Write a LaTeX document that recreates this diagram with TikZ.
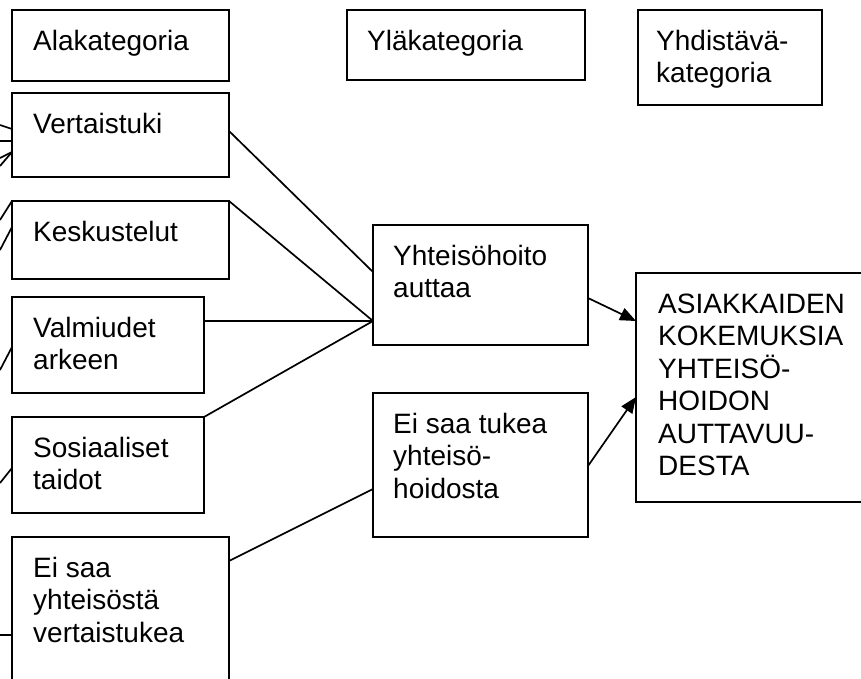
\documentclass[tikz,border=0pt]{standalone}
\usepackage{fontspec}
\setmainfont{Liberation Sans}
\usetikzlibrary{arrows.meta,calc}

% stacked lines whose baseline is that of the first line
\newcommand\mlines[1]{\vtop{\halign{##\hfil\cr#1\crcr}}}

\tikzset{
  box/.style={draw, line width=1.7pt, anchor=north west, inner sep=0pt, outer sep=0pt},
  lbl/.style={anchor=base west, inner sep=0pt, font=\fontsize{28}{32.5}\selectfont},
  link/.style={line width=1.7pt},
  arr/.style={line width=1.7pt, -{Triangle[length=16pt,width=13pt]}},
}

\begin{document}
\begin{tikzpicture}[x=1pt,y=-1pt]
\useasboundingbox (0,0) rectangle (861,678);
\clip (0,0) rectangle (861,678);

% header boxes
\node[box, minimum width=217pt, minimum height=71pt] (ala) at (12,10) {};
\node[box, minimum width=238pt, minimum height=70pt] (yla) at (347,10) {};
\node[box, minimum width=184pt, minimum height=95pt] (yhd) at (638,10) {};

% subcategories
\node[box, minimum width=217pt, minimum height=84pt] (vert) at (12,93) {};
\node[box, minimum width=217pt, minimum height=78pt] (kesk) at (12,201) {};
\node[box, minimum width=192pt, minimum height=96pt] (valm) at (12,297) {};
\node[box, minimum width=192pt, minimum height=96pt] (sos) at (12,417) {};
\node[box, minimum width=217pt, minimum height=160pt] (eisy) at (12,537) {};

% upper categories
\node[box, minimum width=215pt, minimum height=120pt] (yht) at (373,225) {};
\node[box, minimum width=215pt, minimum height=144pt] (eist) at (373,393) {};

% combining category
\node[box, minimum width=250pt, minimum height=229pt] (asia) at (636,273) {};

% texts
\node[lbl] (ala-t) at ($(ala.north west)+(21,40)$) {Alakategoria};
\node[lbl] (yla-t) at ($(yla.north west)+(20,40)$) {Yläkategoria};
\node[lbl] (yhd-t) at ($(yhd.north west)+(18,40)$) {\mlines{Yhdistävä-\cr kategoria}};
\node[lbl] (vert-t) at ($(vert.north west)+(21,40)$) {Vertaistuki};
\node[lbl] (kesk-t) at ($(kesk.north west)+(21,40)$) {Keskustelut};
\node[lbl] (valm-t) at ($(valm.north west)+(21,40)$) {\mlines{Valmiudet\cr arkeen}};
\node[lbl] (sos-t) at ($(sos.north west)+(21,40)$) {\mlines{Sosiaaliset\cr taidot}};
\node[lbl] (eisy-t) at ($(eisy.north west)+(21,40)$) {\mlines{Ei saa\cr yhteisöstä\cr vertaistukea}};
\node[lbl] (yht-t) at ($(yht.north west)+(20,40)$) {\mlines{Yhteisöhoito\cr auttaa}};
\node[lbl] (eist-t) at ($(eist.north west)+(20,40)$) {\mlines{Ei saa tukea\cr yhteisö-\cr hoidosta}};
\node[lbl] (asia-t) at ($(asia.north west)+(22,40)$) {\mlines{ASIAKKAIDEN\cr KOKEMUKSIA\cr YHTEISÖ-\cr HOIDON\cr AUTTAVUU-\cr DESTA}};

% connection points
\coordinate (yhtin) at ($(yht.north west)+(0,96)$);
\coordinate (yhtup) at ($(yht.north west)+(0,47)$);
\coordinate (eistin) at ($(eist.north west)+(0,96)$);

% subcategories to upper categories
\draw[link] ($(vert.north east)+(0,38)$) -- (yhtup);
\draw[link] (kesk.north east) -- (yhtin);
\draw[link] ($(valm.north east)+(0,24)$) -- (yhtin);
\draw[link] (sos.north east) -- (yhtin);
\draw[link] ($(eisy.north east)+(0,24)$) -- (eistin);

% upper categories to combining category
\draw[arr] ($(yht.north east)+(0,73)$) -- ($(asia.north west)+(0,48)$);
\draw[arr] ($(eist.north east)+(0,73)$) -- ($(asia.north west)+(0,124)$);

% lines entering from the left edge
\coordinate (s1) at (0,125);
\coordinate (s2) at (0,141);
\coordinate (s3) at (0,158);
\coordinate (s4) at (0,166);
\coordinate (s5) at (0,220);
\coordinate (s6) at (0,250);
\coordinate (s7) at (0,370);
\coordinate (s8) at (0,483);
\coordinate (s9) at (0,635);
\draw[link] (s1) -- ($(vert.north west)+(0,36)$);
\draw[link] (s2) -- ($(vert.north west)+(0,48)$);
\draw[link] (s3) -- ($(vert.north west)+(0,59)$);
\draw[link] (s4) -- ($(vert.north west)+(0,59)$);
\draw[link] (s5) -- (kesk.north west);
\draw[link] (s6) -- ($(kesk.north west)+(0,26)$);
\draw[link] (s7) -- ($(valm.north west)+(0,50)$);
\draw[link] (s8) -- ($(sos.north west)+(0,51)$);
\draw[link] (s9) -- ($(eisy.north west)+(0,98)$);
\end{tikzpicture}
\end{document}
